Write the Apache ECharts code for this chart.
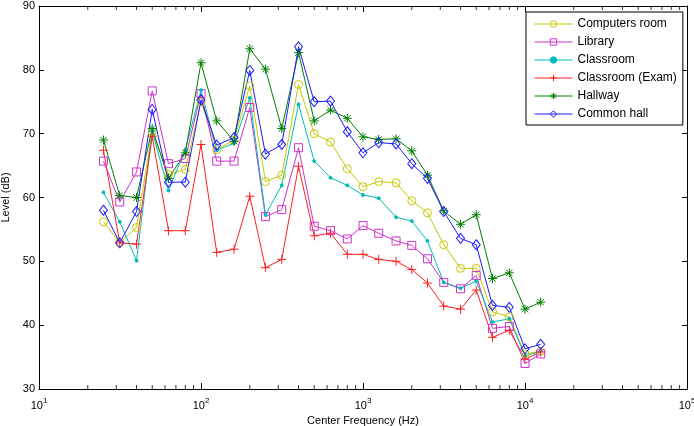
<!DOCTYPE html>
<html>
<head>
<meta charset="utf-8">
<script src="https://cdn.jsdelivr.net/npm/echarts@6/dist/echarts.min.js"></script>
<style>
  html, body { margin: 0; padding: 0; background: #fff; }
  #chart { width: 694px; height: 426px; }
</style>
</head>
<body>
<div id="chart"></div>
<script>
// third-octave centre frequencies (Hz)
const freqs = [25, 31.5, 40, 50, 63, 80, 100, 125, 160, 200, 250, 315, 400, 500, 630, 800,
               1000, 1250, 1600, 2000, 2500, 3150, 4000, 5000, 6300, 8000, 10000, 12500]

// levels in dB
const computersRoom = [56.2, 52.9, 55.3, 70.3, 63.6, 64.4, 75.0, 67.5, 69.0, 77.5, 62.5, 63.5, 77.7, 70.0,
                       68.7, 64.5, 61.7, 62.5, 62.3, 59.5, 57.6, 52.6, 48.9, 48.9, 42.1, 41.3, 35.5, 35.9]
const library = [65.7, 59.3, 64.0, 76.7, 65.3, 66.1, 76.3, 65.7, 65.7, 74.1, 57.0, 58.1, 67.8, 55.5,
                 54.8, 53.5, 55.6, 54.4, 53.2, 52.5, 50.4, 46.7, 45.7, 47.8, 39.5, 39.8, 34.0, 35.5]
const classroom = [60.8, 56.2, 50.1, 70.4, 61.1, 67.5, 76.8, 67.4, 68.5, 75.6, 57.3, 61.9, 74.6, 65.7,
                   63.1, 61.9, 60.4, 59.9, 56.9, 56.3, 53.2, 46.7, 45.8, 46.9, 40.5, 41.0, 35.2, 35.9]
const classroomExam = [67.4, 52.9, 52.7, 69.6, 54.8, 54.8, 68.3, 51.4, 51.9, 60.2, 49.0, 50.3, 64.9, 54.0,
                       54.4, 51.1, 51.1, 50.3, 50.0, 48.7, 46.6, 43.0, 42.5, 45.5, 38.1, 39.2, 34.7, 35.8]
const hallway = [69.0, 60.3, 60.0, 70.8, 63.0, 67.0, 81.1, 72.0, 68.8, 83.3, 80.1, 70.8, 82.7, 72.0,
                 73.7, 72.4, 69.5, 69.1, 69.2, 67.3, 63.5, 57.9, 55.8, 57.3, 47.3, 48.2, 42.5, 43.6]
const commonHall = [58.0, 52.9, 57.8, 73.8, 62.4, 62.4, 75.3, 68.2, 69.4, 79.9, 66.8, 68.3, 83.6, 75.0,
                    75.1, 70.3, 67.0, 68.6, 68.4, 65.3, 63.0, 57.8, 53.6, 52.6, 43.1, 42.8, 36.3, 37.0]

// log-axis minor tick positions (2..9 in each decade)
const minorTicks = [20, 30, 40, 50, 60, 70, 80, 90, 200, 300, 400, 500, 600, 700, 800, 900,
                    2000, 3000, 4000, 5000, 6000, 7000, 8000, 9000, 20000, 30000, 40000, 50000,
                    60000, 70000, 80000, 90000]

const FONT = 'Liberation Sans'
const plusPath = 'path://M0,5L10,5M5,0L5,10'
const starPath = 'path://M0,5L10,5M5,0L5,10M1.5,1.5L8.5,8.5M1.5,8.5L8.5,1.5'
const clear = 'rgba(0,0,0,0)'

// name, values, colour, symbol, size, filled
const defs = [
  ['Computers room', computersRoom, '#c8c800', 'circle', 8, false],
  ['Library', library, '#cc33cc', 'rect', 8, false],
  ['Classroom', classroom, '#00bcbc', 'circle', 3, true],
  ['Classroom (Exam)', classroomExam, '#ff2020', plusPath, 9, true],
  ['Hallway', hallway, '#008000', starPath, 9, true],
  ['Common hall', commonHall, '#1a1aff', 'diamond', [8, 10], false]
]

const series = defs.map(d => ({
  name: d[0],
  type: 'line',
  data: freqs.map((f, i) => [f, d[1][i]]),
  symbol: d[3],
  symbolSize: d[4],
  showAllSymbol: true,
  lineStyle: { color: d[2], width: 1 },
  itemStyle: { color: d[5] ? d[2] : clear, borderColor: d[2], borderWidth: 1 }
}))

const legendData = defs.map(d => ({
  name: d[0],
  itemStyle: { color: d[5] ? d[2] : clear, borderColor: d[2], borderWidth: 1 },
  lineStyle: { color: d[2], width: 1 }
}))

// minor ticks on the bottom and top edges, drawn as tiny bars
function tickSeries(y, offset) {
  return {
    type: 'scatter',
    silent: true,
    clip: false,
    z: 5,
    symbol: 'rect',
    symbolSize: [1, 4],
    symbolOffset: [0, offset],
    itemStyle: { color: '#000' },
    data: minorTicks.map(f => [f, y])
  }
}
series.push(tickSeries(30, -2), tickSeries(90, 2))

const axisLine = { show: true, onZero: false, lineStyle: { color: '#000', width: 1 } }

const chart = echarts.init(document.getElementById('chart'))
chart.setOption({
  backgroundColor: '#fff',
  animation: false,
  textStyle: { fontFamily: FONT },
  grid: { left: 39, right: 7, top: 6, bottom: 37, containLabel: false, outerBoundsMode: 'none' },
  legend: {
    data: legendData,
    orient: 'vertical',
    left: 526,
    top: 12,
    padding: [5, 6, 4, 8],
    itemWidth: 38,
    itemHeight: 8,
    itemGap: 4,
    backgroundColor: '#fff',
    borderColor: '#000',
    borderWidth: 1,
    borderRadius: 0,
    textStyle: { fontFamily: FONT, fontSize: 12, color: '#000', lineHeight: 14 }
  },
  xAxis: [
    {
      type: 'log',
      logBase: 10,
      min: 10,
      max: 100000,
      splitNumber: 4,
      name: 'Center Frequency (Hz)',
      nameLocation: 'middle',
      nameGap: 22,
      nameTextStyle: { fontFamily: FONT, fontSize: 11, color: '#000' },
      axisLine: axisLine,
      axisTick: { inside: true, length: 6, lineStyle: { color: '#000' } },
      splitLine: { show: false },
      axisLabel: {
        margin: 5,
        color: '#000',
        formatter: function (v) {
          const e = Math.round(Math.log10(v))
          return '{b|10}{s|' + e + '}'
        },
        rich: {
          b: { fontFamily: FONT, fontSize: 11, color: '#000', padding: [6, 0, 0, 0] },
          s: { fontFamily: FONT, fontSize: 8, color: '#000', padding: [0, 0, 4, 0] }
        }
      }
    },
    {
      type: 'log',
      logBase: 10,
      min: 10,
      max: 100000,
      splitNumber: 4,
      position: 'top',
      axisLine: axisLine,
      axisTick: { inside: true, length: 6, lineStyle: { color: '#000' } },
      axisLabel: { show: false },
      splitLine: { show: false }
    }
  ],
  yAxis: [
    {
      type: 'value',
      min: 30,
      max: 90,
      interval: 10,
      name: 'Level (dB)',
      nameLocation: 'middle',
      nameGap: 23,
      nameTextStyle: { fontFamily: FONT, fontSize: 11, color: '#000' },
      axisLine: axisLine,
      axisTick: { inside: true, length: 5, lineStyle: { color: '#000' } },
      splitLine: { show: false },
      axisLabel: { margin: 4, fontFamily: FONT, fontSize: 11, color: '#000' }
    },
    {
      type: 'value',
      min: 30,
      max: 90,
      interval: 10,
      position: 'right',
      axisLine: axisLine,
      axisTick: { inside: true, length: 5, lineStyle: { color: '#000' } },
      splitLine: { show: false },
      axisLabel: { show: false }
    }
  ],
  series: series
})
</script>
</body>
</html>
